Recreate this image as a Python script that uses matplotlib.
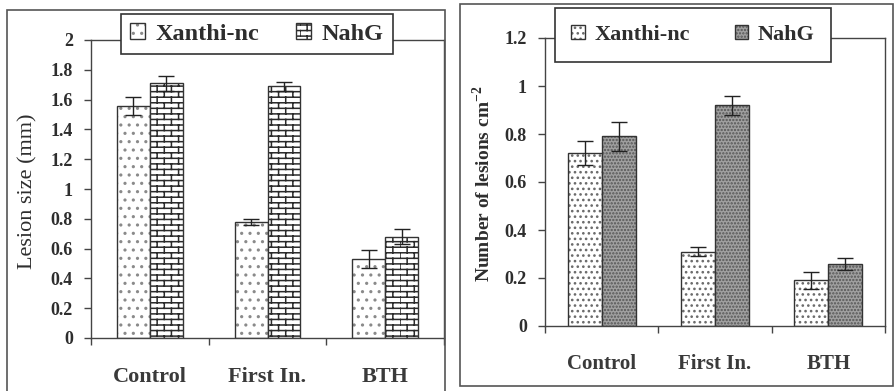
import numpy as np
import matplotlib
matplotlib.use("Agg")
import matplotlib.pyplot as plt
import matplotlib.hatch as mhatch
from matplotlib.path import Path
from matplotlib.patches import Patch, Rectangle

# ---------------------------------------------------------------- data
categories = ["Control", "First In.", "BTH"]
series = ["Xanthi-nc", "NahG"]

size_xanthi = [1.56, 0.78, 0.53]
size_xanthi_err = [0.06, 0.02, 0.06]
size_nahg = [1.71, 1.69, 0.68]
size_nahg_err = [0.05, 0.03, 0.05]
size_ticks = ["0", "0.2", "0.4", "0.6", "0.8", "1", "1.2", "1.4", "1.6", "1.8", "2"]

count_xanthi = [0.72, 0.31, 0.19]
count_xanthi_err = [0.05, 0.02, 0.035]
count_nahg = [0.79, 0.92, 0.26]
count_nahg_err = [0.06, 0.04, 0.025]
count_ticks = ["0", "0.2", "0.4", "0.6", "0.8", "1", "1.2"]


# ------------------------------------------------- brick hatch pattern
class BrickJoints(mhatch.HatchPatternBase):
    """Staggered vertical joints between '+' rows, giving a brick wall."""

    def __init__(self, hatch, density):
        self.num_rows = int(hatch.count('+') * density)
        self.num_cols = max(1, round(self.num_rows / 2.5)) if self.num_rows else 0
        self.num_vertices = 2 * self.num_cols * (self.num_rows + 1) if self.num_rows else 0

    def set_vertices_and_codes(self, vertices, codes):
        n, m = self.num_rows, self.num_cols
        dy, dx = 1.0 / n, 1.0 / m
        k = 0
        for j in range(n + 1):
            y0 = max(0.0, (j - 0.5) * dy)
            y1 = min(1.0, (j + 0.5) * dy)
            shift = 0.5 * dx if j % 2 else 0.0
            for i in range(m):
                x = i * dx + shift
                vertices[k] = (x, y0)
                vertices[k + 1] = (x, y1)
                codes[k] = Path.MOVETO
                codes[k + 1] = Path.LINETO
                k += 2


mhatch._hatch_types = [BrickJoints if t is mhatch.VerticalHatch else t
                       for t in mhatch._hatch_types]

# ---------------------------------------------------------------- style
plt.rcParams["font.family"] = "serif"
plt.rcParams["font.serif"] = ["Liberation Serif", "DejaVu Serif"]
plt.rcParams["hatch.linewidth"] = 1.1
INK = "#2e2e2e"
EDGE = "#333333"

W, H = 896, 391
fig = plt.figure(figsize=(W / 100, H / 100), dpi=100)


def fx(px):
    return px / W


def fy(py):
    return 1 - py / H


# outer panel frames
fig.patches.append(Rectangle((fx(7), fy(420)), fx(445) - fx(7), fy(10) - fy(420),
                             transform=fig.transFigure, fill=False,
                             edgecolor="#555555", lw=1.2, zorder=0))
fig.patches.append(Rectangle((fx(460), fy(386)), fx(893) - fx(460), fy(4) - fy(386),
                             transform=fig.transFigure, fill=False,
                             edgecolor="#555555", lw=1.2, zorder=0))


def styled_bars(ax, x, vals, width, fill):
    """Fill layer (hatch in its own colour) plus a dark outline layer."""
    ax.bar(x, vals, width, linewidth=0, **fill)
    ax.bar(x, vals, width, fill=False, edgecolor=EDGE, linewidth=1.0)


def handle(fill):
    return (Patch(linewidth=0, **fill), Patch(fill=False, edgecolor=EDGE, linewidth=1.0))


def panel(rect, ylim, ticks, xan, xan_err, nah, nah_err, width,
          xan_style, nah_style, cat_size, pad):
    ax = fig.add_axes(rect)
    x = np.arange(len(categories))
    styled_bars(ax, x - width / 2, xan, width, xan_style)
    styled_bars(ax, x + width / 2, nah, width, nah_style)
    ax.errorbar(x - width / 2, xan, yerr=xan_err, fmt="none", ecolor="#222222",
                elinewidth=1.0, capsize=6, capthick=1.0)
    ax.errorbar(x + width / 2, nah, yerr=nah_err, fmt="none", ecolor="#222222",
                elinewidth=1.0, capsize=6, capthick=1.0)
    ax.set_xlim(-0.5, len(categories) - 0.5)
    ax.set_ylim(*ylim)
    ax.set_yticks(np.linspace(ylim[0], ylim[1], len(ticks)))
    ax.set_yticklabels(ticks, fontsize=13, fontweight="bold", color=INK)
    ax.tick_params(axis="y", direction="out", length=5, width=1, pad=8, color="#444444")
    # category boundaries carry the tick marks, names sit at the centres
    ax.set_xticks(np.arange(len(categories) + 1) - 0.5)
    ax.set_xticklabels([])
    ax.set_xticks(x, minor=True)
    ax.set_xticklabels(categories, minor=True, fontsize=cat_size,
                       fontweight="bold", color="#3a3a3a")
    ax.tick_params(axis="x", which="major", direction="out", length=5, width=1,
                   color="#444444")
    ax.tick_params(axis="x", which="minor", length=0, pad=pad)
    for s in ax.spines.values():
        s.set_color("#444444")
        s.set_linewidth(1.0)
    return ax


def legend(style_a, style_b, center, size, borderpad, colspace):
    leg = fig.legend([handle(style_a), handle(style_b)], series, ncol=2,
                     loc="center", bbox_to_anchor=center,
                     prop=dict(size=size, weight="bold"), frameon=True, fancybox=False,
                     edgecolor="#333333", framealpha=1, handlelength=0.6,
                     handleheight=0.6, handletextpad=0.45, columnspacing=colspace,
                     borderpad=borderpad)
    leg.get_frame().set_linewidth(1.2)
    for t in leg.get_texts():
        t.set_color(INK)
    return leg


# ---------------------------------------------------------- lesion size
left_x = dict(facecolor="white", edgecolor="#8a8a8a", hatch="..")
left_n = dict(facecolor="white", edgecolor="#2a2a2a", hatch="+++")
axL = panel([fx(91), fy(338), fx(444) - fx(91), fy(40) - fy(338)], (0, 2), size_ticks,
            size_xanthi, size_xanthi_err, size_nahg, size_nahg_err, 0.28,
            left_x, left_n, 16, 21)
fig.text(fx(28), fy(191), "Lesion size (mm)", rotation=90, ha="center", va="center",
         fontsize=16, color=INK)
legend(left_x, left_n, (fx(257), fy(34)), 17.5, 0.4, 1.5)

# ------------------------------------------------------ lesion density
right_x = dict(facecolor="white", edgecolor="#6a6a6a", hatch="...")
right_n = dict(facecolor="#a0a0a0", edgecolor="#555555", hatch=".....")
axR = panel([fx(545), fy(326), fx(885) - fx(545), fy(38) - fy(326)], (0, 1.2), count_ticks,
            count_xanthi, count_xanthi_err, count_nahg, count_nahg_err, 0.3,
            right_x, right_n, 15, 20)
fig.text(fx(483), fy(184), r"Number of lesions cm$^{\mathregular{-2}}$", rotation=90,
         ha="center", va="center", fontsize=14, fontweight="bold", color=INK)
legend(right_x, right_n, (fx(693), fy(35)), 16, 0.75, 2.0)

fig.savefig("out.png", dpi=100)
